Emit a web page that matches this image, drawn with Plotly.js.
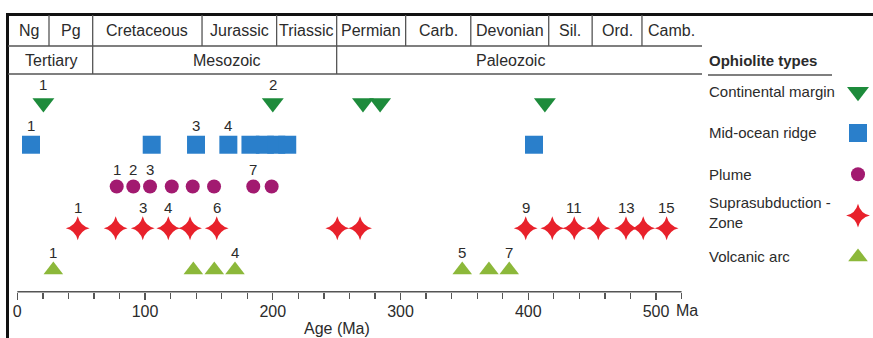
<!DOCTYPE html>
<html>
<head>
<meta charset="utf-8">
<script src="https://cdn.plot.ly/plotly-3.0.1.min.js"></script>
<style>
  html, body { margin: 0; padding: 0; background: #fff; }
  #chart { width: 873px; height: 338px; }
</style>
</head>
<body>
<div id="chart"></div>
<script>
// ---------- data ----------
const typeNames = ["Continental margin", "Mid-ocean ridge", "Plume", "Suprasubduction -<br>Zone", "Volcanic arc"];

const cmAges  = [20.4, 200, 270.6, 284, 413];
const cmLabels = ["1", "2", "", "", ""];

const morAges = [10.7, 105.2, 139.9, 165.2, 182.5, 193.8, 202.7, 211.3, 404.5];
const morLabels = ["1", "", "3", "4", "", "", "", "", ""];

const plumeAges = [77.8, 90.8, 103.9, 120.9, 137.3, 154, 184.7, 199.1];
const plumeLabels = ["1", "2", "3", "", "", "", "7", ""];

const sszAges = [47.3, 77, 98.2, 118.2, 135.2, 156.1, 250.5, 268.3, 398, 418.8, 436, 454.8, 476.5, 490, 508.3];
const sszLabels = ["1", "", "3", "4", "", "6", "", "", "9", "", "11", "", "13", "", "15"];

const vaAges = [28.2, 137.8, 154.2, 170.4, 348.3, 369.2, 385.1];
const vaLabels = ["1", "", "", "4", "5", "", "7"];

// geologic time scale (Ma)
const periodNames = ["Ng", "Pg", "Cretaceous", "Jurassic", "Triassic", "Permian", "Carb.", "Devonian", "Sil.", "Ord.", "Camb."];
const periodBounds = [-7.3, 24.8, 59, 144.6, 203, 250, 304, 355, 416, 450, 489, 536];
const eraNames = ["Tertiary", "Mesozoic", "Paleozoic"];
const eraBounds = [-7.3, 59, 250, 536];
const eraLabelAt = [26.2, 164, 386];

const tickVals = [0, 100, 200, 300, 400, 500];
const tickText = ["0", "100", "200", "300", "400", "500"];
const axisEnd = 520;

// ---------- styles ----------
const FONT = "Liberation Sans, Arial, Helvetica, sans-serif";
const TXT = "#2b2b2b";
const LINE = "#555";
const W = 873, H = 338;
const px = v => v / W;          // paper x from pixel
const py = v => (H - v) / H;    // paper y from pixel

const styles = [
  {symbol: "triangle-down", color: "#1d8b3b", size: 19, labelShift: 18},
  {symbol: "square", color: "#2a7fcb", size: 18, labelShift: 19},
  {symbol: "circle", color: "#a21a70", size: 14, labelShift: 16.5},
  {symbol: "star-diamond", color: "#e8212b", size: 17, labelShift: 21},
  {symbol: "triangle-up", color: "#8cb83a", size: 17, labelShift: 17}
];
const series = [
  [cmAges, cmLabels], [morAges, morLabels], [plumeAges, plumeLabels],
  [sszAges, sszLabels], [vaAges, vaLabels]
];

const traces = series.map((s, i) => ({
  type: "scatter",
  mode: "markers",
  x: s[0],
  y: s[0].map(() => i),
  marker: {symbol: styles[i].symbol, color: styles[i].color, size: styles[i].size, opacity: 1, line: {width: 0}},
  cliponaxis: false,
  hoverinfo: "skip",
  showlegend: false,
  xaxis: "x", yaxis: "y"
}));

// legend symbols
traces.push({
  type: "scatter",
  mode: "markers",
  x: typeNames.map(() => 156),
  y: typeNames.map((_, i) => i),
  marker: {
    symbol: styles.map(s => s.symbol),
    color: styles.map(s => s.color),
    size: styles.map(s => s.size),
    opacity: 1,
    line: {width: 0}
  },
  cliponaxis: false,
  hoverinfo: "skip",
  showlegend: false,
  xaxis: "x2", yaxis: "y2"
});

// ---------- shapes & annotations ----------
const shapes = [];
const annotations = [];
const thin = {color: LINE, width: 1.3};

// point number labels
series.forEach((s, i) => {
  s[0].forEach((age, j) => {
    if (!s[1][j]) return;
    annotations.push({xref: "x", yref: "y", x: age, y: i, yshift: styles[i].labelShift, text: s[1][j],
      showarrow: false, xanchor: "center", yanchor: "middle", font: {family: FONT, size: 15, color: TXT}});
  });
});

// borders
shapes.push({type: "line", xref: "paper", yref: "paper", x0: px(7), x1: 1, y0: py(14.5), y1: py(14.5), line: {color: "#111", width: 3}});
shapes.push({type: "line", xref: "paper", yref: "paper", x0: px(7.5), x1: px(7.5), y0: py(13), y1: 0, line: {color: "#111", width: 3}});

// row lines
shapes.push({type: "line", xref: "x", yref: "paper", x0: periodBounds[0], x1: periodBounds[periodBounds.length - 1], y0: py(46), y1: py(46), line: thin});
shapes.push({type: "line", xref: "x", yref: "paper", x0: eraBounds[0], x1: eraBounds[eraBounds.length - 1], y0: py(74), y1: py(74), line: thin});
// legend title underline
shapes.push({type: "line", xref: "paper", yref: "paper", x0: px(708), x1: px(832), y0: py(75), y1: py(75), line: {color: LINE, width: 1.6}});

// period cells
for (let i = 1; i < periodBounds.length - 1; i++) {
  shapes.push({type: "line", xref: "x", yref: "paper", x0: periodBounds[i], x1: periodBounds[i], y0: py(15), y1: py(46), line: thin});
}
periodNames.forEach((n, i) => {
  annotations.push({xref: "x", yref: "paper", x: (periodBounds[i] + periodBounds[i + 1]) / 2, y: py(30),
    text: n, showarrow: false, xanchor: "center", yanchor: "middle", font: {family: FONT, size: 16, color: TXT}});
});
// era cells
for (let i = 1; i < eraBounds.length - 1; i++) {
  shapes.push({type: "line", xref: "x", yref: "paper", x0: eraBounds[i], x1: eraBounds[i], y0: py(46), y1: py(74), line: thin});
}
eraNames.forEach((n, i) => {
  annotations.push({xref: "x", yref: "paper", x: eraLabelAt[i], y: py(60),
    text: n, showarrow: false, xanchor: "center", yanchor: "middle", font: {family: FONT, size: 16, color: TXT}});
});

// x axis line (0 .. 520 Ma)
shapes.push({type: "line", xref: "x", yref: "paper", x0: 0, x1: axisEnd, y0: py(291.7), y1: py(291.7), line: {color: LINE, width: 1.5}});

// "Ma" after the 500 tick label, axis title
annotations.push({xref: "x", yref: "paper", x: tickVals[tickVals.length - 1], xshift: 18, y: py(310), text: "Ma",
  showarrow: false, xanchor: "left", yanchor: "middle", font: {family: FONT, size: 16, color: TXT}});
annotations.push({xref: "x", yref: "paper", x: 250, y: py(328), text: "Age (Ma)",
  showarrow: false, xanchor: "center", yanchor: "middle", font: {family: FONT, size: 16, color: TXT}});

// legend
annotations.push({xref: "paper", yref: "paper", x: px(707), y: py(60), text: "<b>Ophiolite types</b>",
  showarrow: false, xanchor: "left", yanchor: "middle", font: {family: FONT, size: 15, color: TXT}});
typeNames.forEach((n, i) => {
  annotations.push({xref: "x2", yref: "y2", x: 5, y: i, text: n, align: "left",
    showarrow: false, xanchor: "left", yanchor: "middle", yshift: (i === 3 ? 3 : 0),
    font: {family: FONT, size: 15, color: TXT}});
});

const layout = {
  width: W, height: H,
  margin: {l: 0, r: 0, t: 0, b: 0},
  paper_bgcolor: "#fff", plot_bgcolor: "#fff",
  showlegend: false,
  xaxis: {
    domain: [px(8), px(702)],
    range: [periodBounds[0], periodBounds[periodBounds.length - 1]],
    showgrid: false, zeroline: false, showline: false,
    tickmode: "array", tickvals: tickVals, ticktext: tickText,
    ticks: "outside", ticklen: 7, tickwidth: 1.3, tickcolor: LINE,
    minor: {dtick: 20, tick0: 0, ticks: "outside", ticklen: 6, tickwidth: 1.3, tickcolor: LINE},
    tickfont: {family: FONT, size: 16, color: TXT},
    ticklabelstandoff: -2,
    automargin: false, fixedrange: true
  },
  yaxis: {
    domain: [py(291.7), py(14)],
    range: [4.52, -2.131],
    visible: false, showgrid: false, zeroline: false, fixedrange: true
  },
  xaxis2: {
    domain: [px(702), 1], range: [0, 171], anchor: "y2",
    visible: false, showgrid: false, zeroline: false, fixedrange: true
  },
  yaxis2: {
    domain: [py(291.7), py(14)], range: [4.843, -1.881], anchor: "x2",
    visible: false, showgrid: false, zeroline: false, fixedrange: true
  },
  shapes: shapes,
  annotations: annotations
};

Plotly.newPlot("chart", traces, layout, {displayModeBar: false, staticPlot: true});
</script>
</body>
</html>
